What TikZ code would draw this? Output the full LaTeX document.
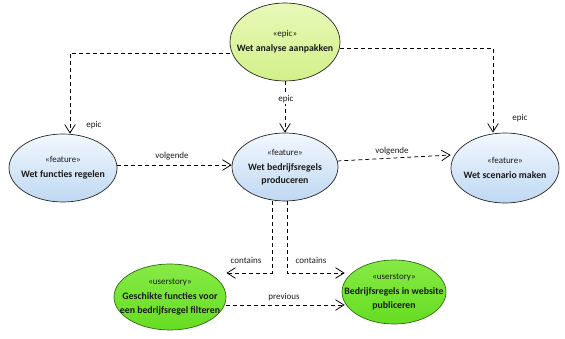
\documentclass[tikz,border=0pt]{standalone}
\usepackage{fontspec}
\setmainfont{Carlito}
\usetikzlibrary{arrows.meta,shapes.geometric,positioning}
\definecolor{epicfill}{HTML}{D2F08A}
\definecolor{epictop}{HTML}{E8F9B8}
\definecolor{featfill}{HTML}{BFD8F2}
\definecolor{feattop}{HTML}{F2F8FE}
\definecolor{usfill}{HTML}{66DD22}
\definecolor{ustop}{HTML}{86EA44}
\definecolor{usborder}{HTML}{2F6A10}
\definecolor{txt}{HTML}{1A1A1A}
\tikzset{
  uc/.style={ellipse, draw=black!85, line width=0.7pt, inner sep=0pt},
  epicbox/.style={uc, top color=epictop, bottom color=epicfill},
  featbox/.style={uc, top color=feattop, bottom color=featfill},
  usbox/.style={uc, draw=usborder, top color=ustop, bottom color=usfill},
  uctext/.style={inner sep=0pt, align=center, text=txt, font=\fontsize{9.8}{13.5}\selectfont},
  dep/.style={draw=black, line width=0.75pt, dash pattern=on 4pt off 3pt,
    -{Straight Barb[angle=64:10pt,line width=0.75pt]}},
  lbl/.style={font=\fontsize{9}{10}\selectfont, text=txt, inner sep=1pt},
}
\newcommand{\stereo}[1]{{\fontsize{9}{10}\selectfont «#1»}\\[1.5pt]}
\begin{document}
\begin{tikzpicture}[x=1pt,y=-1pt]
\useasboundingbox (0,0) rectangle (565,339);
\node[epicbox, minimum width=110, minimum height=78] (epic) at (285,42) {};
\node[uctext] (epict) at (epic) {\stereo{epic}\textbf{Wet analyse aanpakken}};
\node[featbox, minimum width=108, minimum height=68] (f1) at (63,168) {};
\node[uctext] (f1t) at (f1) {\stereo{feature}\textbf{Wet functies regelen}};
\node[featbox, minimum width=106, minimum height=68] (m) at (285,167) {};
\node[uctext] (mt) at (m) {\stereo{feature}\textbf{Wet bedrijfsregels}\\\textbf{produceren}};
\node[featbox, minimum width=108, minimum height=70] (f3) at (505,168) {};
\node[uctext] (f3t) at (f3) {\stereo{feature}\textbf{Wet scenario maken}};
\node[usbox, minimum width=112, minimum height=66] (b1) at (170,297) {};
\node[uctext] (b1t) at (b1) {\stereo{userstory}\textbf{Geschikte functies voor}\\\textbf{een bedrijfsregel filteren}};
\node[usbox, minimum width=104, minimum height=64] (b2) at (394,292) {};
\node[uctext] (b2t) at (b2) {\stereo{userstory}\textbf{Bedrijfsregels in website}\\\textbf{publiceren}};

% epic relations
\draw[dep] ([yshift=-11pt]epic.west) -| ([xshift=7pt]f1.north);
\draw[dep] (epic.south) -- (m.north);
\draw[dep] ([yshift=-6pt]epic.east) -| ([xshift=-12pt]f3.north);
\node[lbl] (l1) at (94,125) {epic};
\node[lbl, fill=white] (l2) at (286,99) {epic};
\node[lbl] (l3) at (520,118) {epic};

% volgende
\draw[dep] ([yshift=3pt]f1.east) -- ([yshift=2pt]m.west);
\node[lbl] (l4) at (172,156) {volgende};
\draw[dep] ([xshift=-1pt,yshift=6pt]m.east) -- ([yshift=13pt]f3.west);
\node[lbl] (l5) at (392,151) {volgende};

% contains
\draw[dep] ([xshift=-13pt]m.south) |- ([yshift=24pt]b1.east);
\draw[dep] ([xshift=2pt]m.south) |- ([xshift=3pt,yshift=19pt]b2.west);
\node[lbl] (l6) at (246,260) {contains};
\node[lbl] (l7) at (311,260) {contains};

% previous
\draw[dep] ([yshift=-8pt]b1.east) -- ([xshift=3pt,yshift=-13pt]b2.west);
\node[lbl] (l8) at (284,297) {previous};
\end{tikzpicture}
\end{document}
